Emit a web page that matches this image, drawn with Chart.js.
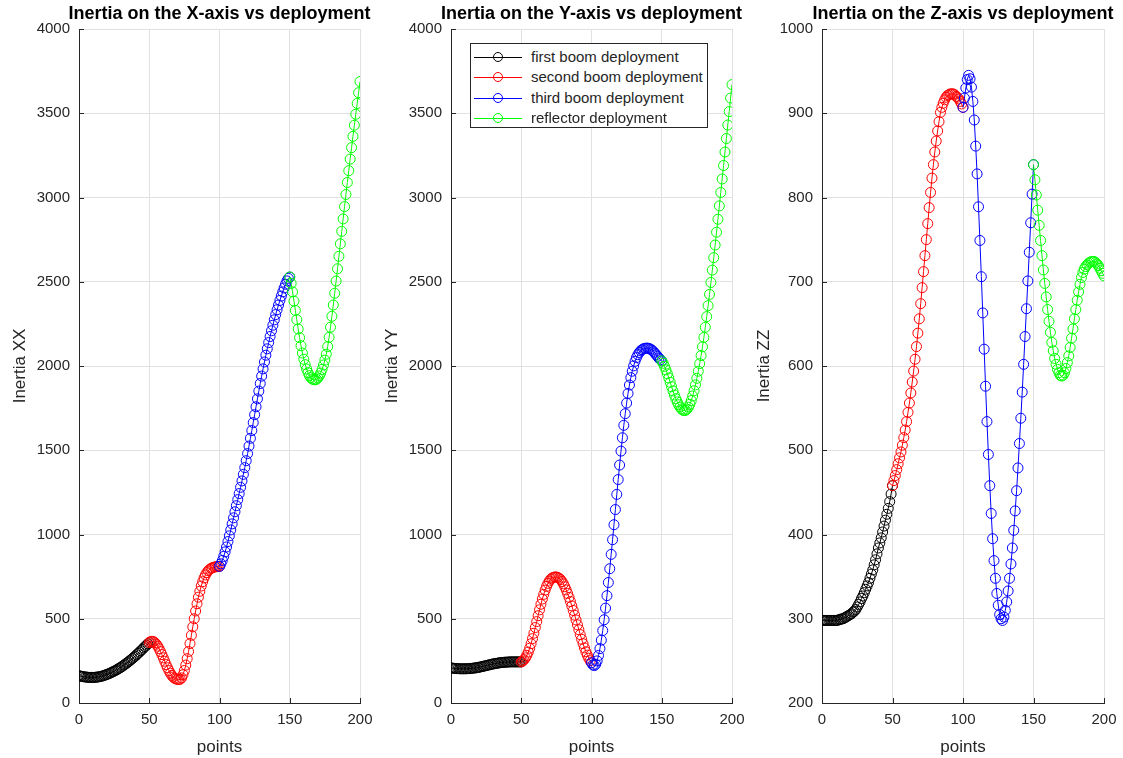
<!DOCTYPE html>
<html lang="en">
<head>
<meta charset="UTF-8">
<title>Inertia vs deployment</title>
<script src="https://cdn.jsdelivr.net/npm/chart.js@4.4.0/dist/chart.umd.min.js"></script>
<style>
  body { margin: 0; background: #fff; width: 1123px; height: 758px; position: relative; overflow: hidden;
         font-family: "Liberation Sans", Arial, sans-serif; }
  canvas { position: absolute; top: 0; }
  #legend { position: absolute; left: 470px; top: 43px; width: 238px; height: 85px; box-sizing: border-box;
            border: 1px solid #262626; background: #fff; padding-top: 3px; font-size: 15px; color: #262626; }
  .row { position: relative; height: 20.4px; line-height: 20.4px; padding-left: 60px; white-space: nowrap; }
  .smp { position: absolute; left: 3px; top: 10px; width: 48px; border-top: 1px solid; }
  .smp::after { content: ''; position: absolute; left: 19px; top: -6px; width: 10px; height: 10px;
                border: 1px solid; border-color: inherit; border-radius: 50%; box-sizing: border-box; }
</style>
</head>
<body>
<!-- each canvas is centred on its plot area so the full-width title sits over the plot -->
<canvas id="cx" width="439" height="758" style="left:0px"></canvas>
<canvas id="cy" width="439" height="758" style="left:372px"></canvas>
<canvas id="cz" width="438" height="758" style="left:744px"></canvas>

<div id="legend">
  <div class="row"><span class="smp" style="border-color:#000"></span>first boom deployment</div>
  <div class="row"><span class="smp" style="border-color:#f00"></span>second boom deployment</div>
  <div class="row"><span class="smp" style="border-color:#00f"></span>third boom deployment</div>
  <div class="row"><span class="smp" style="border-color:#0f0"></span>reflector deployment</div>
</div>

<script>
  // segment start points (x axis = points)
  const segStarts = [0, 50, 100, 150];
  const segLabels = ["first boom deployment", "second boom deployment", "third boom deployment", "reflector deployment"];
  const segColors = ["#000000", "#ff0000", "#0000ff", "#00ff00"];

  // Inertia XX
  const xxFirst = [162,160,158,156,155,154,153,152,152,152,
                   152,152,153,154,155,157,159,161,164,167,
                   170,173,177,181,185,189,193,198,203,208,
                   213,219,225,231,237,243,250,257,264,271,
                   278,286,294,302,310,318,327,335,343,351,
                   359];
  const xxSecond = [359,364,366,364,358,349,337,322,305,287,
                    268,248,228,209,192,177,164,154,147,143,
                    140,139,141,149,168,193,225,263,306,353,
                    402,452,500,546,589,628,663,694,720,742,
                    760,774,785,793,799,803,806,808,809,810,
                    811];
  const xxThird = [811,826,846,870,897,926,958,992,1027,1063,
                   1099,1135,1171,1207,1243,1280,1318,1357,1397,1438,
                   1480,1525,1571,1617,1664,1711,1758,1805,1851,1896,
                   1940,1983,2024,2064,2102,2139,2175,2209,2242,2274,
                   2305,2334,2362,2389,2415,2440,2463,2485,2505,2520,
                   2528];
  const xxFourth = [2528,2490,2440,2385,2330,2275,2220,2168,2120,2077,
                    2040,2008,1982,1960,1943,1931,1923,1919,1918,1921,
                    1929,1941,1958,1980,2006,2035,2070,2115,2170,2230,
                    2295,2362,2432,2504,2577,2651,2725,2799,2873,2946,
                    3018,3089,3159,3228,3296,3363,3429,3494,3558,3622,
                    3688];

  // Inertia YY
  const yyFirst = [208,207,206,205,204,204,203,203,203,203,
                   203,203,204,204,205,206,207,208,209,211,
                   212,214,216,218,220,222,224,226,228,230,
                   232,233,235,236,238,239,240,241,242,242,
                   243,243,244,244,244,244,244,244,244,244,
                   244];
  const yySecond = [244,249,257,268,283,302,325,352,382,414,
                    448,483,518,553,586,617,645,670,692,710,
                    724,735,742,746,748,748,745,740,732,721,
                    707,690,671,650,627,602,576,549,521,493,
                    464,435,406,378,352,327,304,284,266,251,
                    239];
  const yyThird = [239,226,222,230,250,282,323,373,430,494,
                   563,637,715,797,882,969,1058,1148,1238,1326,
                   1412,1495,1574,1648,1717,1780,1837,1887,1931,1969,
                   2001,2028,2050,2067,2080,2090,2097,2102,2105,2106,
                   2106,2104,2100,2094,2086,2077,2067,2057,2047,2038,
                   2030];
  const yyFourth = [2030,2016,1998,1977,1954,1929,1903,1877,1852,1828,
                    1806,1787,1770,1756,1745,1738,1735,1737,1744,1756,
                    1773,1795,1822,1853,1888,1927,1969,2014,2062,2114,
                    2170,2230,2293,2358,2425,2496,2569,2643,2718,2794,
                    2871,2950,3030,3110,3190,3270,3350,3430,3510,3590,
                    3670];

  // Inertia ZZ
  const zzFirst = [298,298,298,298,298,298,298,298,298,298,
                   298,298,299,299,300,300,301,302,303,304,
                   305,306,308,309,311,314,317,320,324,327,
                   331,335,339,343,348,353,358,364,370,377,
                   384,390,396,403,410,417,424,431,439,448,
                   458];
  const zzSecond = [458,464,470,477,484,491,498,506,515,524,
                    534,545,556,568,581,594,608,623,639,656,
                    674,693,712,731,750,769,788,806,823,839,
                    854,867,879,890,901,907,912,916,919,921,
                    922,923,923,923,922,920,919,917,914,911,
                    907];
  const zzThird = [907,918,930,940,945,941,931,914,892,861,
                   828,789,749,706,663,620,576,534,495,458,
                   425,395,369,348,330,316,305,300,298,302,
                   310,320,333,348,365,384,405,428,452,479,
                   508,538,569,602,635,668,701,735,770,804,
                   839];
  const zzFourth = [839,821,803,785,767,749,731,714,698,682,
                    667,653,640,628,618,609,602,596,592,589,
                    588,589,592,597,604,612,622,633,644,656,
                    667,678,688,697,705,711,715,718,720,722,
                    723,724,724,724,723,721,719,716,713,710,
                    707];

  const FONT = '"Liberation Sans", Arial, sans-serif';
  const AXIS = '#262626';
  Chart.defaults.font.family = FONT;

  // MATLAB style inward tick marks on the left and bottom axes
  const innerTicks = {
    id: 'innerTicks',
    afterDraw(chart) {
      const { ctx, chartArea: a, scales: { x, y } } = chart;
      ctx.save();
      ctx.strokeStyle = AXIS;
      ctx.lineWidth = 1;
      ctx.beginPath();
      x.ticks.forEach(t => {
        const px = Math.round(x.getPixelForValue(t.value)) + 0.5;
        ctx.moveTo(px, a.bottom); ctx.lineTo(px, a.bottom - 5);
      });
      y.ticks.forEach(t => {
        const py = Math.round(y.getPixelForValue(t.value)) + 0.5;
        ctx.moveTo(a.left, py); ctx.lineTo(a.left + 5, py);
      });
      ctx.stroke();
      ctx.restore();
    }
  };

  function seg(start, values) {
    return values.map((v, i) => ({ x: start + i, y: v }));
  }

  function makeChart(id, canvasLeft, plotLeft, plotRight, title, yTitle, yMin, yMax, yStep, series) {
    const canvas = document.getElementById(id);
    const datasets = series.map((vals, k) => ({
      label: segLabels[k],
      data: seg(segStarts[k], vals),
      borderColor: segColors[k],
      borderWidth: 1,
      pointStyle: 'circle',
      pointRadius: 5,
      pointBorderWidth: 1,
      pointBorderColor: segColors[k],
      pointBackgroundColor: 'rgba(0,0,0,0)',
      fill: false,
      tension: 0,
      order: 3 - k
    }));
    return new Chart(canvas, {
      type: 'line',
      data: { datasets },
      plugins: [innerTicks],
      options: {
        responsive: false,
        animation: false,
        events: [],
        devicePixelRatio: 1,
        layout: { padding: 0 },
        plugins: {
          legend: { display: false },
          tooltip: { enabled: false },
          title: {
            display: true, text: title, color: '#000',
            font: { size: 18, weight: 'bold', family: FONT },
            padding: { top: 3, bottom: 4.4 }
          }
        },
        scales: {
          x: {
            type: 'linear', min: 0, max: 200,
            ticks: { stepSize: 50, padding: 8, color: AXIS, font: { size: 15 }, callback: v => String(v) },
            grid: { color: '#e1e1e1', drawTicks: false },
            border: { color: AXIS, width: 1 },
            title: { display: true, text: 'points', color: AXIS, font: { size: 17 }, padding: { top: 3, bottom: 0 } },
            afterFit(s) { s.height = 758 - 703; }
          },
          y: {
            min: yMin, max: yMax,
            ticks: { stepSize: yStep, padding: 9, color: AXIS, font: { size: 15 }, callback: v => String(v) },
            grid: { color: '#e1e1e1', drawTicks: false },
            border: { color: AXIS, width: 1 },
            title: { display: true, text: yTitle, color: AXIS, font: { size: 17 }, padding: { top: 10, bottom: 0 } },
            afterFit(s) { s.width = plotLeft - canvasLeft; }
          },
          // empty right-hand spacer so the plot area sits in the middle of the canvas
          gap: {
            position: 'right',
            ticks: { display: false },
            grid: { display: false },
            border: { display: false },
            afterFit(s) { s.width = canvas.width - (plotRight - canvasLeft); }
          }
        }
      }
    });
  }

  makeChart('cx', 0, 79, 360, 'Inertia on the X-axis vs deployment', 'Inertia XX', 0, 4000, 500,
            [xxFirst, xxSecond, xxThird, xxFourth]);
  makeChart('cy', 372, 451, 732, 'Inertia on the Y-axis vs deployment', 'Inertia YY', 0, 4000, 500,
            [yyFirst, yySecond, yyThird, yyFourth]);
  makeChart('cz', 744, 822, 1104, 'Inertia on the Z-axis vs deployment', 'Inertia ZZ', 200, 1000, 100,
            [zzFirst, zzSecond, zzThird, zzFourth]);
</script>
</body>
</html>
